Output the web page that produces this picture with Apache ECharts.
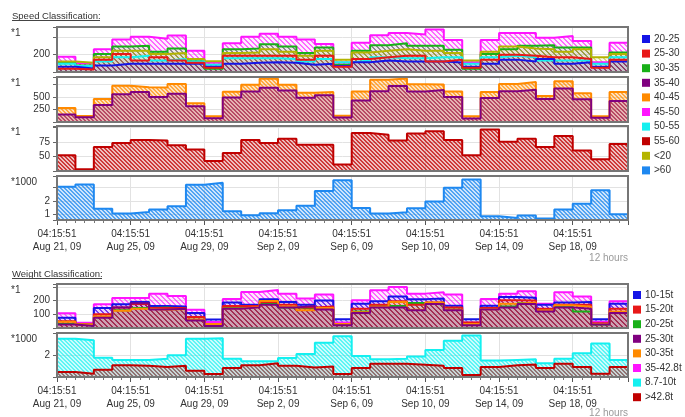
<!DOCTYPE html>
<html><head><meta charset="utf-8">
<script src="https://cdn.jsdelivr.net/npm/echarts@6/dist/echarts.min.js"></script>
<style>html,body{margin:0;padding:0;background:#fff}#chart{width:685px;height:417px}</style>
</head><body><div id="chart"></div>
<script>
// One bucket per 24 h, starting Aug 21, 2009 04:15:51
const startTime = Date.UTC(2009, 7, 21, 4, 15, 51);
const dayCount = 31;
const tickEveryDays = 4;

// ---- Speed classification (counts per bucket) ----
const speed20_25 = [60,40,75,94,94,94,94,94,60,94,106,113,106,83,94,70,113,132,121,121,121,110,60,94,143,121,151,94,113,60,121];
const speed25_30 = [38,30,143,207,132,170,132,106,50,189,189,189,189,143,189,60,150,170,189,189,121,143,50,143,200,189,170,170,151,50,143];
const speed30_35 = [105,75,207,294,302,234,271,143,38,264,271,320,294,219,283,83,245,309,332,302,302,256,38,207,264,302,309,283,283,57,226];
const speed45_50 = [177,100,264,377,407,385,422,245,106,332,407,441,407,377,324,110,339,426,452,434,490,369,113,369,452,452,396,415,358,113,339];
const speed50_55 = [94,68,121,170,189,132,151,121,83,158,158,158,151,121,151,113,132,170,158,158,170,170,94,170,189,170,132,132,132,94,170];
const speedLt20  = [121,106,170,245,245,207,219,150,124,219,226,264,234,189,245,143,226,245,264,245,245,219,132,234,294,271,264,234,264,170,207];
const speed35_40 = [150,95,340,555,600,500,565,315,75,490,610,685,630,485,535,90,428,615,720,610,640,500,70,478,615,645,460,670,455,85,420];
const speed40_45 = [280,120,460,725,695,690,760,375,115,605,745,865,745,585,600,125,608,845,870,755,750,608,115,600,760,800,520,815,573,115,600];
const speed55_60 = [52,28,66,73,78,77,69,62,42,56,78,73,80,70,70,36,90,87,77,89,93,78,52,96,75,80,66,85,60,45,71];
const speedGt60  = [3.02,3.19,1.41,1.07,1.19,1.36,1.6,3.17,3.31,1.24,0.95,1.1,1.31,1.64,2.71,3.5,1.48,1.07,1.17,1.45,1.95,2.95,3.55,0.88,0.74,0.93,0.71,1.36,1.79,2.76,1.02];

// ---- Weight classification ----
const weight10_15 = [75,30,145,172,190,160,157,110,62,186,170,210,190,169,200,64,176,194,230,210,215,162,64,162,226,220,170,186,190,64,176];
const weight15_20 = [50,25,100,150,175,145,145,80,30,160,160,190,170,150,157,30,140,170,194,170,186,150,40,145,201,200,140,170,169,35,140];
const weight20_25 = [30,20,80,130,145,150,140,60,15,150,160,175,150,140,140,25,120,160,162,181,170,135,25,140,157,180,130,157,120,25,115];
const weight25_30 = [25,15,75,150,180,135,140,55,15,140,150,170,150,160,135,20,110,150,150,130,175,130,20,135,150,175,120,150,140,25,110];
const weight30_35 = [45,28,85,125,140,132,138,62,30,142,152,196,157,130,145,30,115,155,190,132,186,132,30,137,176,186,127,165,155,30,120];
const weight35_43 = [108,38,172,218,218,250,232,132,44,211,262,276,250,215,243,40,201,274,299,250,260,243,40,211,250,267,176,260,230,46,194];
const weight8_10  = [3.51,3.39,1.78,1.57,1.57,1.69,2.0,3.51,3.57,1.69,1.45,1.45,1.75,2.12,3.15,3.75,1.94,1.63,1.69,1.88,2.48,3.33,3.82,1.51,1.57,1.63,1.27,1.69,2.18,3.09,1.57];
const weightGt43  = [0.45,0.3,0.66,1.09,1.03,0.91,1.03,0.57,0.27,0.82,1.09,1.27,1.03,0.88,0.97,0.27,0.82,1.21,1.21,1.12,1.03,0.82,0.18,0.91,1.09,1.15,0.82,1.21,0.91,0.3,0.91];

// Labelled y ticks per panel
const ticksSpeedA = [200];
const ticksSpeedB = [250, 500];
const ticksSpeedC = [50, 75];
const ticksSpeedD = [1, 2];
const ticksWeightA = [100, 200];
const ticksWeightB = [2];

const speedLegend = ['20-25','25-30','30-35','35-40','40-45','45-50','50-55','55-60','<20','>60'];
const weightLegend = ['10-15t','15-20t','20-25t','25-30t','30-35t','35-42.8t','8.7-10t','>42.8t'];

const COL = {
  '20-25':'#1414e6','25-30':'#e81818','30-35':'#18b018','35-40':'#800080','40-45':'#ff8a00',
  '45-50':'#ff14ff','50-55':'#14f0f0','55-60':'#c00000','<20':'#b4b400','>60':'#1e88f0',
  '10-15t':'#1414e6','15-20t':'#e81818','20-25t':'#18b018','25-30t':'#800080','30-35t':'#ff8a00',
  '35-42.8t':'#ff14ff','8.7-10t':'#14f0f0','>42.8t':'#c00000'
};

const FONT = '"Liberation Sans", Arial, sans-serif';

function rgba(hex, a) {
  const n = parseInt(hex.slice(1), 16);
  return 'rgba(' + (n >> 16) + ',' + ((n >> 8) & 255) + ',' + (n & 255) + ',' + a + ')';
}
// Diagonal "\" hatch fill
function hatch(hex, bgA, lineA, period) {
  const c = document.createElement('canvas');
  c.width = c.height = period;
  const g = c.getContext('2d');
  g.fillStyle = rgba(hex, bgA);
  g.fillRect(0, 0, period, period);
  g.fillStyle = rgba(hex, lineA);
  for (let i = 0; i < period; i++) {
    g.fillRect(i, i, 1, 1);
    g.fillRect((i + 1) % period, i, 1, 1);
  }
  return { image: c, repeat: 'repeat' };
}

// Series listed in fill order (first = underneath); optional [stripe alpha, tint alpha]
const panels = [
  { top: 27, h: 45, min: 0, max: 520, interval: 200, labels: ticksSpeedA, unit: '*1', bgA: 0.08, lineA: 0.45, period: 5,
    series: [['45-50', speed45_50, 0.6], ['30-35', speed30_35], ['<20', speedLt20], ['50-55', speed50_55], ['20-25', speed20_25], ['25-30', speed25_30]] },
  { top: 77, h: 45, min: 0, max: 900, interval: 250, labels: ticksSpeedB, unit: '*1', period: 4,
    series: [['40-45', speed40_45, 0.65, 0.25], ['35-40', speed35_40, 0.45, 0.2]] },
  { top: 126, h: 45, min: 25, max: 102, interval: 25, labels: ticksSpeedC, unit: '*1', bgA: 0.25, lineA: 0.7, period: 4,
    series: [['55-60', speed55_60]] },
  { top: 176, h: 44, min: 0.6, max: 3.8, interval: null, labels: ticksSpeedD, unit: '*1000', bgA: 0.22, lineA: 0.7, period: 4, bottom: true,
    series: [['>60', speedGt60]] },
  { top: 284, h: 44, min: 0, max: 320, interval: 100, labels: ticksWeightA, unit: '*1', bgA: 0.1, lineA: 0.5, period: 5,
    series: [['35-42.8t', weight35_43, 0.6], ['10-15t', weight10_15], ['20-25t', weight20_25], ['15-20t', weight15_20], ['30-35t', weight30_35], ['25-30t', weight25_30]] },
  { top: 333, h: 44, min: 0, max: 4.05, interval: 2, labels: ticksWeightB, unit: '*1000', period: 4, bottom: true,
    series: [['8.7-10t', weight8_10, 0.6, 0.22], ['>42.8t', weightGt43, 0.45, 0.15]] }
];

const MONTHS = ['Jan','Feb','Mar','Apr','May','Jun','Jul','Aug','Sep','Oct','Nov','Dec'];
const pad = n => (n < 10 ? '0' : '') + n;
function dateLabel(d) {
  if (d % tickEveryDays !== 0 || d >= dayCount) return '';
  const t = new Date(startTime + d * 86400000);
  return pad(t.getUTCHours()) + ':' + pad(t.getUTCMinutes()) + ':' + pad(t.getUTCSeconds()) + '\n' +
    MONTHS[t.getUTCMonth()] + ' ' + t.getUTCDate() + ', ' + String(t.getUTCFullYear()).slice(2);
}

const LEFT = 57, WIDTH = 571;
const grid = [], xAxis = [], yAxis = [], series = [], graphic = [];

panels.forEach((p, i) => {
  grid.push({ left: LEFT, top: p.top, width: WIDTH, height: p.h, show: true, backgroundColor: '#fff', borderWidth: 0 });
  xAxis.push({
    type: 'value', gridIndex: i, min: 0, max: dayCount, interval: tickEveryDays,
    axisLine: { show: false },
    axisTick: { show: !!p.bottom, length: 5, lineStyle: { color: '#555' } },
    minorTick: { show: !!p.bottom, splitNumber: 8, length: 3, lineStyle: { color: '#777' } },
    axisLabel: { show: !!p.bottom, formatter: dateLabel, margin: 8, fontSize: 10, lineHeight: 13, color: '#333', fontFamily: FONT, showMaxLabel: false },
    splitLine: { show: true, lineStyle: { color: '#e2e2e2', width: 1 } }
  });
  const y = {
    type: 'value', gridIndex: i, min: p.min, max: p.max,
    axisLine: { show: false },
    axisTick: { show: true, length: 4, lineStyle: { color: '#666' } },
    axisLabel: {
      fontSize: 10, color: '#333', fontFamily: FONT, margin: 7,
      formatter: v => p.labels.some(l => Math.abs(l - v) < 1e-9) ? String(v) : ''
    },
    splitLine: { show: true, lineStyle: { color: '#e2e2e2', width: 1 } }
  };
  if (p.interval) y.interval = p.interval; else { y.minInterval = 1; y.maxInterval = 1; y.splitNumber = 3; }
  yAxis.push(y);

  const stepData = vals => {
    const d = vals.map((v, k) => [k, v]);
    d.push([dayCount, vals[vals.length - 1]]);
    return d;
  };
  // hatched fills first, then every outline above all fills
  p.series.forEach(([name, vals, la, ba]) => {
    const c = COL[name];
    series.push({
      type: 'line', name, xAxisIndex: i, yAxisIndex: i, step: 'end', symbol: 'none', silent: true,
      data: stepData(vals), itemStyle: { color: c },
      lineStyle: { width: 0, opacity: 0 },
      areaStyle: { color: hatch(c, ba != null ? ba : p.bgA, la != null ? la : p.lineA, p.period), opacity: 1, origin: 'start' }
    });
  });
  p.series.forEach(([name, vals]) => {
    const c = COL[name];
    series.push({
      type: 'line', name, xAxisIndex: i, yAxisIndex: i, step: 'end', symbol: 'none', silent: true,
      data: stepData(vals), itemStyle: { color: c },
      lineStyle: { color: c, width: 2 }
    });
  });

  graphic.push({ type: 'rect', silent: true, z: 100, shape: { x: LEFT, y: p.top, width: WIDTH, height: p.h },
    style: { fill: null, stroke: '#767676', lineWidth: 2 } });
  graphic.push({ type: 'text', silent: true, z: 100, left: 11, top: p.top + 1,
    style: { text: p.unit, fontSize: 10, fill: '#333', fontFamily: FONT } });
});

// Section titles with underline, and minor-tick captions
[['Speed Classification:', 11], ['Weight Classification:', 269]].forEach(([t, top]) => {
  graphic.push({ type: 'text', silent: true, left: 12, top, style: { text: t, fontSize: 9.5, fill: '#333', fontFamily: FONT } });
});
graphic.push({ type: 'line', silent: true, shape: { x1: 12, y1: 20.5, x2: 100, y2: 20.5 }, style: { stroke: '#444', lineWidth: 1 } });
graphic.push({ type: 'line', silent: true, shape: { x1: 12, y1: 278.5, x2: 102, y2: 278.5 }, style: { stroke: '#444', lineWidth: 1 } });
[253, 408].forEach(top => {
  graphic.push({ type: 'text', silent: true, right: 57, top, style: { text: '12 hours', fontSize: 10, fill: '#9a9a9a', fontFamily: FONT } });
});

const legendCommon = {
  orient: 'vertical', padding: 0, icon: 'rect', itemWidth: 8, itemHeight: 8, itemGap: 2.6,
  selectedMode: false, textStyle: { fontSize: 10, color: '#333', fontFamily: FONT, lineHeight: 12, padding: [0, 0, 0, -1] }
};

const chart = echarts.init(document.getElementById('chart'), null, { renderer: 'canvas' });
chart.setOption({
  animation: false,
  textStyle: { fontFamily: FONT },
  grid, xAxis, yAxis, series, graphic,
  legend: [
    Object.assign({ left: 642, top: 33, data: speedLegend }, legendCommon),
    Object.assign({ left: 633, top: 289, data: weightLegend }, legendCommon)
  ]
});
</script>
</body></html>
